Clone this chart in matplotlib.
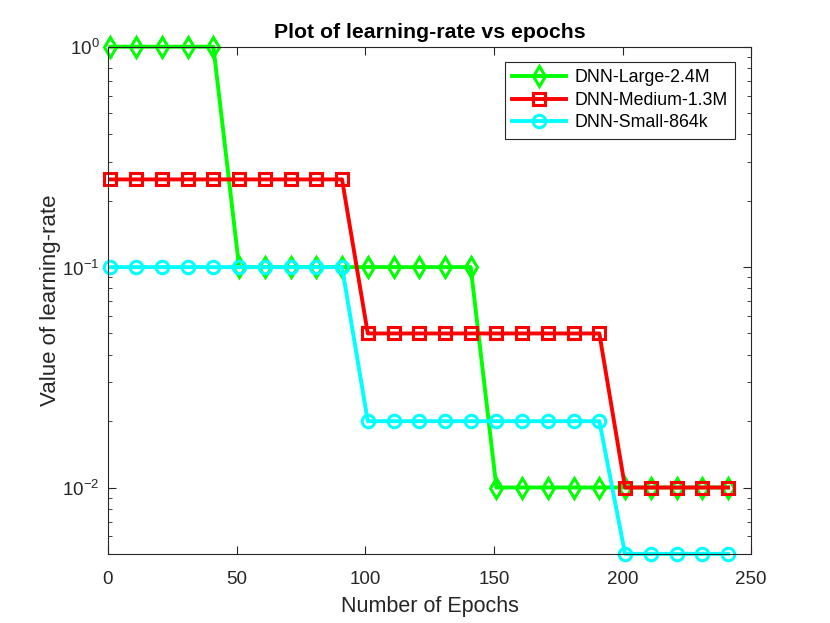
import numpy as np
import matplotlib
matplotlib.use("Agg")
import matplotlib.pyplot as plt
from matplotlib.ticker import LogLocator, NullFormatter

plt.rcParams['font.family'] = ['Liberation Sans', 'DejaVu Sans']
plt.rcParams['mathtext.fontset'] = 'custom'
plt.rcParams['mathtext.rm'] = 'Liberation Sans'

# epochs where the learning rate was logged
epochs = [1, 11, 21, 31, 41, 51, 61, 71, 81, 91, 101, 111, 121,
          131, 141, 151, 161, 171, 181, 191, 201, 211, 221, 231, 241]

lr_large = [1.0] * 5 + [0.1] * 10 + [0.01] * 10
lr_medium = [0.25] * 10 + [0.05] * 10 + [0.01] * 5
lr_small = [0.1] * 10 + [0.02] * 10 + [0.005] * 5

series = [
    ("DNN-Large-2.4M", lr_large, (0, 1, 0), 'd', 10),
    ("DNN-Medium-1.3M", lr_medium, (1, 0, 0), 's', 8),
    ("DNN-Small-864k", lr_small, (0, 1, 1), 'o', 9),
]

fig = plt.figure(figsize=(8.3, 6.23), dpi=100)
ax = fig.add_axes([0.13, 0.111, 0.775, 0.814])

for name, vals, col, mk, ms in series:
    ax.plot(epochs, vals, color=col, lw=2.8, marker=mk, markersize=ms,
            markerfacecolor='none', markeredgecolor=col, markeredgewidth=2.2,
            label=name, clip_on=False)

ax.set_yscale('log')
ax.set_xlim(0, 250)
ax.set_ylim(0.005, 1)
ax.set_xticks([0, 50, 100, 150, 200, 250])
ax.set_yticks([1e-2, 1e-1, 1e0])
ax.set_yticklabels([r'$10^{-2}$', r'$10^{-1}$', r'$10^{0}$'])
ax.yaxis.set_minor_locator(LogLocator(base=10, subs=np.arange(2, 10)))
ax.yaxis.set_minor_formatter(NullFormatter())

axcol = '#262626'
for s in ax.spines.values():
    s.set_color(axcol)
    s.set_linewidth(0.8)
ax.tick_params(which='both', direction='in', top=True, right=True, colors=axcol,
               labelcolor=axcol, labelsize=13.5)
ax.tick_params(which='major', length=6)
ax.tick_params(which='minor', length=3)
ax.tick_params(axis='x', pad=12)
ax.tick_params(axis='y', pad=6)

ax.set_xlabel("Number of Epochs", fontsize=15.5, color=axcol, labelpad=6)
ax.set_ylabel("Value of learning-rate", fontsize=16, color=axcol, labelpad=1)
ax.set_title("Plot of learning-rate vs epochs", fontsize=15.3, fontweight='bold',
             color='black', pad=6)

leg = ax.legend(loc='upper right', bbox_to_anchor=(0.975, 0.97), borderaxespad=0,
                fontsize=12.8, fancybox=False, framealpha=1, edgecolor=axcol,
                handlelength=3.0, borderpad=0.4, labelspacing=0.32, handletextpad=0.5)
leg.get_frame().set_linewidth(0.8)

fig.savefig("out.png", dpi=100)
